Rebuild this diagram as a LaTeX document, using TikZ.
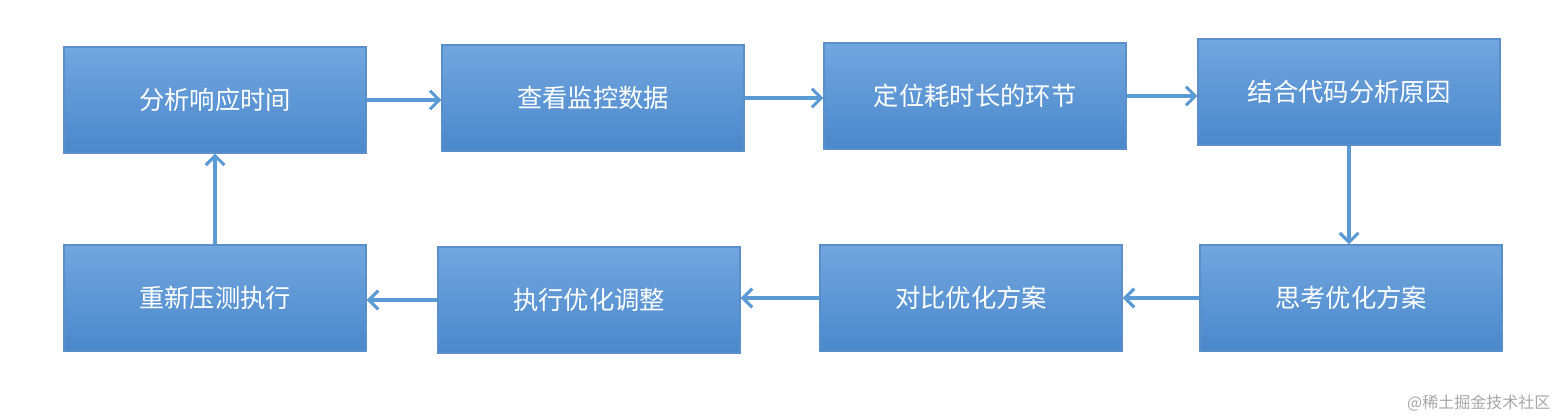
\documentclass[tikz,border=0pt]{standalone}
\usepackage{fontspec}
\newfontfamily\cjk{Noto Sans CJK SC}
\usetikzlibrary{arrows.meta}
\definecolor{btop}{HTML}{72A6DE}
\definecolor{bbot}{HTML}{4A88CC}
\definecolor{bline}{HTML}{5B8FC9}
\definecolor{arr}{HTML}{5B9BD5}
\tikzset{
  stepbox/.style={draw=bline, line width=1pt, top color=btop, bottom color=bbot,
    minimum width=226.5pt, minimum height=79.5pt, inner sep=0pt,
    text=white, font=\cjk\fontsize{19}{22}\selectfont},
  flow/.style={draw=arr, line width=2.3pt, -{Straight Barb[length=7pt,width=14pt,line width=2.3pt]}}
}
\begin{document}
\begin{tikzpicture}[x=0.75pt,y=-0.75pt]
\useasboundingbox (0,0) rectangle (1562,420);
\node[stepbox] (a) at (215,100) {分析响应时间};
\node[stepbox] (b) at (593,98) {查看监控数据};
\node[stepbox] (c) at (975,96) {定位耗时长的环节};
\node[stepbox] (d) at (1349,92) {结合代码分析原因};
\node[stepbox] (e) at (1351,298) {思考优化方案};
\node[stepbox] (f) at (971,298) {对比优化方案};
\node[stepbox] (g) at (589,300) {执行优化调整};
\node[stepbox] (h) at (215,298) {重新压测执行};
\draw[flow] (a.east) -- (b.west |- a.east);
\draw[flow] (b.east) -- (c.west |- b.east);
\draw[flow] (c.east) -- (d.west |- c.east);
\draw[flow] (d.south) -- (e.north -| d.south);
\draw[flow] (e.west) -- (f.east |- e.west);
\draw[flow] (f.west) -- (g.east |- f.west);
\draw[flow] (g.west) -- (h.east |- g.west);
\draw[flow] (h.north) -- (a.south);
\node[anchor=east, text=gray!70, font=\cjk\fontsize{12}{14}\selectfont] (w) at (1555,403) {@稀土掘金技术社区};
\end{tikzpicture}
\end{document}
